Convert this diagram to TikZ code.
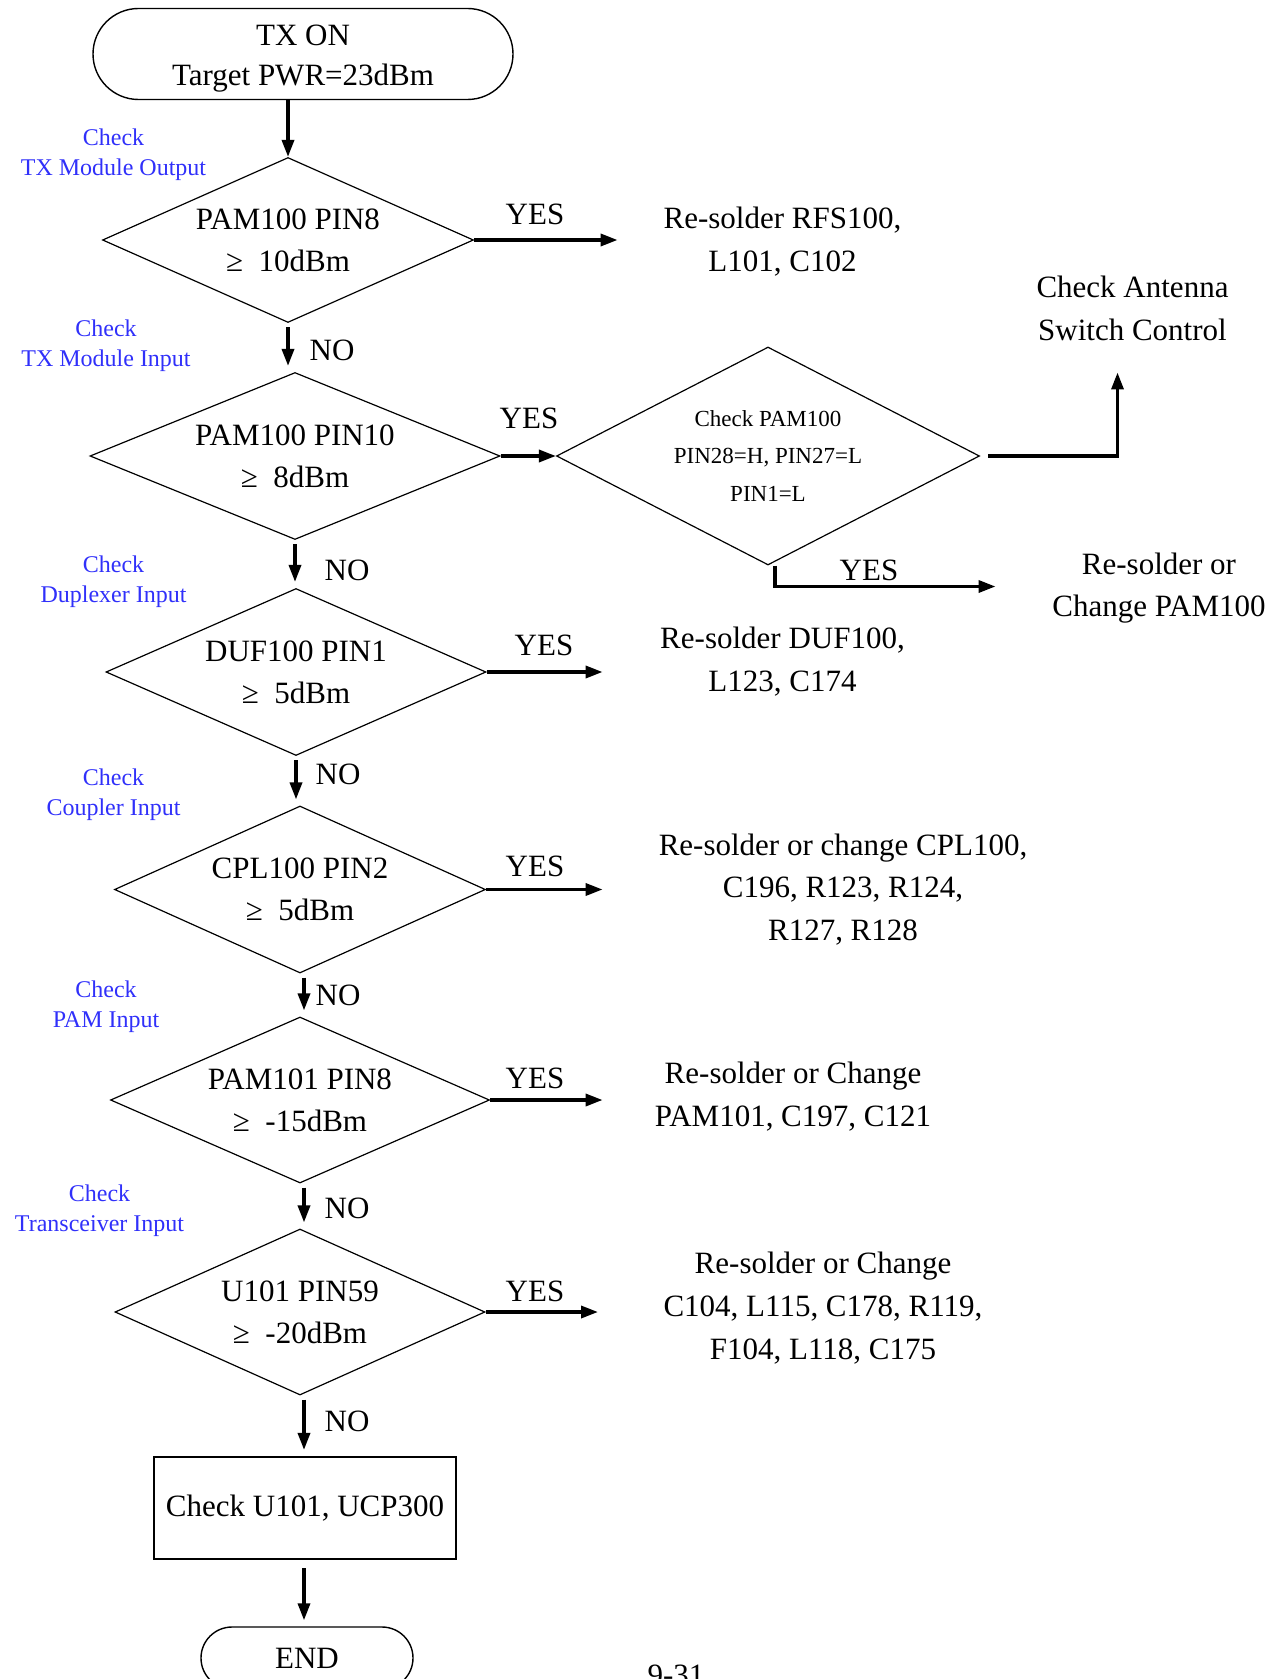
\documentclass[tikz,border=0pt]{standalone}
\usepackage{fontspec}
\setmainfont{Liberation Serif}
\usetikzlibrary{arrows.meta,shapes.geometric,shapes.misc}
\definecolor{chkblue}{RGB}{48,48,250}
\tikzset{
  decision/.style={diamond, draw=black, line width=0.6pt, inner sep=0pt, align=center,
                   font=\fontsize{15.5}{21}\selectfont},
  terminal/.style={rounded rectangle, draw=black, line width=0.7pt, inner sep=0pt, align=center,
                   font=\fontsize{15.5}{20.3}\selectfont},
  result/.style={align=center, font=\fontsize{15.5}{21.4}\selectfont},
  probe/.style={align=center, text=chkblue, font=\fontsize{12}{15}\selectfont},
  lbl/.style={font=\fontsize{15.5}{18}\selectfont},
  arr/.style={-{Triangle[length=8.5pt,width=6pt]}, line width=1.7pt},
}
\begin{document}
\begin{tikzpicture}[x=0.5pt,y=-0.5pt]
    \useasboundingbox (0,0) rectangle (1277,1679);
    % start
    \node[terminal, minimum width=210pt, minimum height=45.5pt, text height=35pt] (start) at (303,54)
      {TX ON\\Target PWR=23dBm};
    % decisions
    \node[decision, aspect=2.25, minimum width=185.5pt, minimum height=82.5pt] (d1) at (288,240)
      {PAM100 PIN8\\≥\hspace{0.5em}10dBm};
    \node[decision, aspect=2.45, minimum width=205pt, minimum height=83.5pt] (d2) at (295,456)
      {PAM100 PIN10\\≥\hspace{0.5em}8dBm};
    \node[decision, aspect=1.94, minimum width=211.5pt, minimum height=109pt,
          font=\fontsize{11.5}{18.7}\selectfont] (d3) at (768,456)
      {Check PAM100\\PIN28=H, PIN27=L\\PIN1=L};
    \node[decision, aspect=2.27, minimum width=190pt, minimum height=83.5pt] (d4) at (296,672)
      {DUF100 PIN1\\≥\hspace{0.5em}5dBm};
    \node[decision, aspect=2.22, minimum width=185.5pt, minimum height=83.5pt] (d5) at (300,889.5)
      {CPL100 PIN2\\≥\hspace{0.5em}5dBm};
    \node[decision, aspect=2.28, minimum width=189.5pt, minimum height=83pt] (d6) at (300,1100)
      {PAM101 PIN8\\≥\hspace{0.5em}-15dBm};
    \node[decision, aspect=2.23, minimum width=185pt, minimum height=83pt] (d7) at (300,1312)
      {U101 PIN59\\≥\hspace{0.5em}-20dBm};
    \node[draw=black, line width=1.1pt, inner sep=0pt, minimum width=151pt, minimum height=51pt,
          font=\fontsize{15.5}{18}\selectfont] (chk) at (305,1508) {Check U101, UCP300};
    \node[terminal, minimum width=106pt, minimum height=31pt] (end) at (307,1658) {END};
    % blue probe points
    \node[probe] (b1) at (113.5,155) {Check\\TX Module Output};
    \node[probe] (b2) at (106,346) {Check\\TX Module Input};
    \node[probe] (b3) at (113.5,582) {Check\\Duplexer Input};
    \node[probe] (b4) at (113.5,795) {Check\\Coupler Input};
    \node[probe] (b5) at (106,1007) {Check\\PAM Input};
    \node[probe] (b6) at (99.5,1211) {Check\\Transceiver Input};
    % actions
    \node[result] (r1) at (782.5,242) {Re-solder RFS100,\\L101, C102};
    \node[result] (r2) at (1132.5,308) {Check Antenna\\Switch Control};
    \node[result] (r3) at (1159,588) {Re-solder or\\Change PAM100};
    \node[result] (r4) at (782.5,662) {Re-solder DUF100,\\L123, C174};
    \node[result] (r5) at (843,889.5) {Re-solder or change CPL100,\\C196, R123, R124,\\R127, R128};
    \node[result] (r6) at (793,1096.6) {Re-solder or Change\\PAM101, C197, C121};
    \node[result] (r7) at (823,1308) {Re-solder or Change\\C104, L115, C178, R119,\\F104, L118, C175};
    \node[lbl] (pg) at (676,1675) {9-31};
    % free arrow ends
    \coordinate (e1) at (617.6,240);
    \coordinate (e4) at (602.6,672);
    \coordinate (e5) at (602.6,889.5);
    \coordinate (e6) at (602.6,1100);
    \coordinate (e7) at (598,1312);
    \coordinate (ant) at (1117.5,372.5);
    \coordinate (pam) at (995.5,586.5);
    % yes / no labels
    \node[lbl] (yes1) at (535,214) {YES};
    \node[lbl] (yes2) at (529,418.5) {YES};
    \node[lbl] (yes3) at (869,570.5) {YES};
    \node[lbl] (yes4) at (544,645.5) {YES};
    \node[lbl] (yes5) at (535,866) {YES};
    \node[lbl] (yes6) at (535,1078) {YES};
    \node[lbl] (yes7) at (535,1291) {YES};
    \node[lbl] (no1) at (332,350) {NO};
    \node[lbl] (no2) at (347,570.5) {NO};
    \node[lbl] (no3) at (338,774) {NO};
    \node[lbl] (no4) at (338,995.5) {NO};
    \node[lbl] (no5) at (347,1208.5) {NO};
    \node[lbl] (no6) at (347,1421.5) {NO};
    % connectors
    \draw[arr] (start.south -| d1.north) -- (d1.north);
    \draw[arr, shorten <=2pt, shorten >=3pt] (d1.south) -- (d1.south |- d2.north);
    \draw[arr, shorten <=2pt, shorten >=3pt] (d2.south) -- (d2.south |- d4.north);
    \draw[arr, shorten <=2pt, shorten >=3pt] (d4.south) -- (d4.south |- d5.north);
    \draw[arr, shorten <=2pt, shorten >=3pt] ([xshift=2pt]d5.south) -- ([xshift=2pt]d5.south |- d6.north);
    \draw[arr, shorten <=2pt, shorten >=3pt] ([xshift=2pt]d6.south) -- ([xshift=2pt]d6.south |- d7.north);
    \draw[arr, shorten <=2pt, shorten >=3pt] ([xshift=2pt]d7.south) -- ([xshift=2pt]d7.south |- chk.north);
    \draw[arr, shorten <=4pt, shorten >=3pt] ([xshift=-0.5pt]chk.south) -- ([xshift=-0.5pt]chk.south |- end.north);
    \draw[arr] (d1.east) -- (e1);
    \draw[arr] (d2.east) -- (d3.west);
    \draw[arr] (d4.east) -- (e4);
    \draw[arr] (d5.east) -- (e5);
    \draw[arr] (d6.east) -- (e6);
    \draw[arr] (d7.east) -- (e7);
    \draw[arr, shorten <=4pt] (d3.east) -| (ant);
    \draw[arr] ([xshift=3.5pt]d3.south) |- (pam);
\end{tikzpicture}
\end{document}
